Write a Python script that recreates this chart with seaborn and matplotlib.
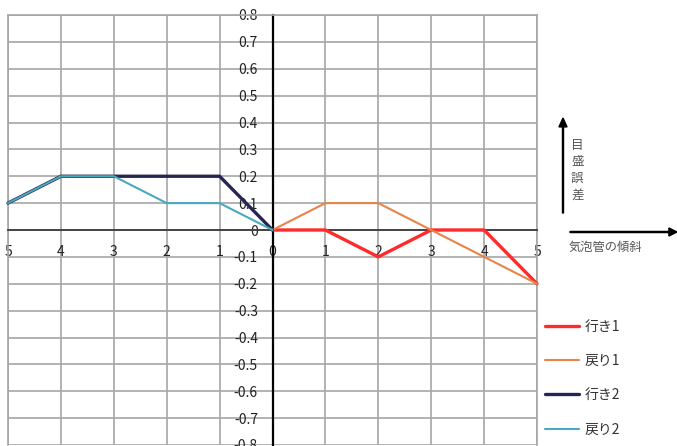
import matplotlib
matplotlib.use("Agg")
import matplotlib.pyplot as plt
import seaborn as sns
import pandas as pd

# Data
x_right = [0, 1, 2, 3, 4, 5]
iki1 = [0, 0, -0.1, 0, 0, -0.2]
modori1 = [0, 0.1, 0.1, 0, -0.1, -0.2]

x_left = [-5, -4, -3, -2, -1, 0]
iki2 = [0.1, 0.2, 0.2, 0.2, 0.2, 0]
modori2 = [0.1, 0.2, 0.2, 0.1, 0.1, 0]

series_names = ["行き1", "戻り1", "行き2", "戻り2"]
colors = ["#ff2a2a", "#e8834a", "#262652", "#4aa8bf"]
widths = [2.4, 1.5, 2.4, 1.5]

x_ticks = [-5, -4, -3, -2, -1, 0, 1, 2, 3, 4, 5]
x_labels = ["5", "4", "3", "2", "1", "0", "1", "2", "3", "4", "5"]
y_ticks = [round(-0.8 + 0.1 * i, 1) for i in range(17)]

sns.set_style("white")
plt.rcParams['font.family'] = ['Noto Sans CJK JP', 'DejaVu Sans']

fig = plt.figure(figsize=(6.77, 4.46), dpi=100)
ax = fig.add_axes([8 / 677, 1 / 446, 529 / 677, 430 / 446])

frames = [
    pd.DataFrame({"x": x_right, "y": iki1}),
    pd.DataFrame({"x": x_right, "y": modori1}),
    pd.DataFrame({"x": x_left, "y": iki2}),
    pd.DataFrame({"x": x_left, "y": modori2}),
]
for df, name, c, w in zip(frames, series_names, colors, widths):
    sns.lineplot(data=df, x="x", y="y", ax=ax, color=c, linewidth=w,
                 label=name, zorder=3, clip_on=False)

ax.set_xlim(-5, 5)
ax.set_ylim(-0.8, 0.8)
ax.set_xticks(x_ticks)
ax.set_xticklabels(x_labels)
ax.set_yticks(y_ticks)
ax.set_yticklabels(["0" if v == 0 else f"{v:.1f}" for v in y_ticks])
ax.set_xlabel("")
ax.set_ylabel("")

ax.grid(True, color="#a6a6a6", linewidth=1.2)
ax.set_axisbelow(True)

ax.spines['left'].set_position(('data', 0))
ax.spines['bottom'].set_position(('data', 0))
ax.spines['left'].set_color("black")
ax.spines['bottom'].set_color("#444444")
ax.spines['left'].set_linewidth(1.6)
ax.spines['bottom'].set_linewidth(1.4)
ax.spines['left'].set_zorder(2.5)
ax.spines['bottom'].set_zorder(2.5)
for s in ['top', 'right']:
    ax.spines[s].set_color("#a6a6a6")
    ax.spines[s].set_linewidth(1.2)
ax.plot([-5, -5], [-0.8, 0.8], color="#a6a6a6", linewidth=1.2, zorder=1, clip_on=False)

ax.tick_params(axis='both', direction='inout', length=7, width=1.4,
               colors="black", labelsize=10)
ax.tick_params(axis='y', pad=7)
ax.tick_params(axis='x', pad=7)
for lbl in ax.get_yticklabels():
    lbl.set_color("#222222")
for lbl in ax.get_xticklabels():
    lbl.set_color("#222222")

leg = ax.legend(loc="upper left", bbox_to_anchor=(1.0, 0.31), frameon=False,
                fontsize=10, handlelength=2.4, handletextpad=0.4,
                labelspacing=1.45, borderaxespad=0.2)
for t in leg.get_texts():
    t.set_color("#333333")

# axis annotations on the right
fig.patches.append(matplotlib.patches.FancyArrow(
    563 / 677, 1 - 213 / 446, 0, (213 - 118) / 446, width=0.0015,
    head_width=0.012, head_length=0.02, length_includes_head=True,
    color="black", transform=fig.transFigure, figure=fig))
fig.patches.append(matplotlib.patches.FancyArrow(
    570 / 677, 1 - 232 / 446, (677 - 570) / 677, 0, width=0.0025,
    head_width=0.018, head_length=0.012, length_includes_head=True,
    color="black", transform=fig.transFigure, figure=fig))
fig.text(571 / 677, 1 - 170 / 446, "目\n盛\n誤\n差", fontsize=9,
         color="#555555", va="center", ha="left", linespacing=1.35)
fig.text(569 / 677, 1 - 247 / 446, "気泡管の傾斜", fontsize=8.8,
         color="#555555", va="center", ha="left")

fig.savefig("out.png", dpi=100)
